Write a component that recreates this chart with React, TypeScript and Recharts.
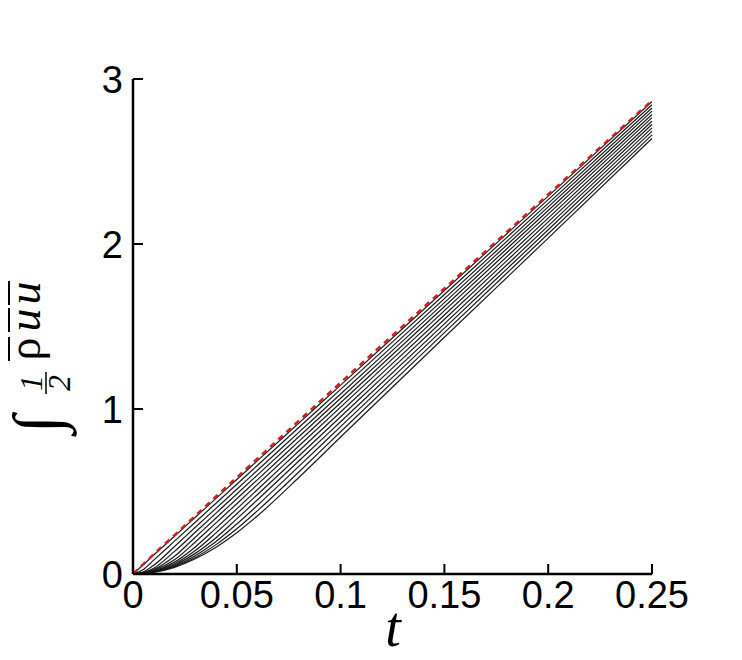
import React from "react";
import { LineChart, Line, XAxis, YAxis } from "recharts";

// time samples
const tValues = [0, 0.005, 0.01, 0.02, 0.03, 0.04, 0.05, 0.06, 0.08, 0.1, 0.15, 0.2, 0.25];

// black family, top to bottom
const curve01 = [0, 0.057, 0.115, 0.229, 0.344, 0.458, 0.573, 0.687, 0.916, 1.145, 1.718, 2.29, 2.863];
const curve02 = [0, 0.027, 0.084, 0.199, 0.314, 0.429, 0.544, 0.659, 0.889, 1.119, 1.694, 2.269, 2.844];
const curve03 = [0, 0.013, 0.053, 0.167, 0.283, 0.398, 0.514, 0.629, 0.86, 1.091, 1.669, 2.246, 2.824];
const curve04 = [0, 0.009, 0.035, 0.137, 0.253, 0.369, 0.485, 0.601, 0.833, 1.065, 1.645, 2.225, 2.805];
const curve05 = [0, 0.007, 0.027, 0.107, 0.223, 0.339, 0.456, 0.572, 0.805, 1.038, 1.621, 2.203, 2.785];
const curve06 = [0, 0.005, 0.022, 0.086, 0.194, 0.31, 0.426, 0.543, 0.777, 1.011, 1.596, 2.181, 2.766];
const curve07 = [0, 0.0045, 0.018, 0.072, 0.164, 0.278, 0.395, 0.512, 0.747, 0.982, 1.57, 2.157, 2.745];
const curve08 = [0, 0.004, 0.015, 0.062, 0.142, 0.249, 0.365, 0.482, 0.717, 0.953, 1.544, 2.134, 2.725];
const curve09 = [0, 0.0034, 0.014, 0.055, 0.125, 0.22, 0.334, 0.45, 0.686, 0.923, 1.516, 2.11, 2.704];
const curve10 = [0, 0.003, 0.012, 0.049, 0.111, 0.197, 0.303, 0.417, 0.654, 0.893, 1.49, 2.086, 2.683];
const curve11 = [0, 0.0027, 0.011, 0.044, 0.1, 0.178, 0.274, 0.384, 0.62, 0.862, 1.463, 2.062, 2.661];
const curve12 = [0, 0.0025, 0.01, 0.04, 0.092, 0.162, 0.25, 0.353, 0.586, 0.83, 1.435, 2.036, 2.64];

// red dashed reference
const redCurve = [0, 0.06, 0.12, 0.236, 0.353, 0.47, 0.585, 0.7, 0.93, 1.16, 1.73, 2.3, 2.87];

const xTicks = [0, 0.05, 0.1, 0.15, 0.2, 0.25];
const yTicks = [0, 1, 2, 3];

const blackCurves = [curve01, curve02, curve03, curve04, curve05, curve06, curve07, curve08, curve09, curve10, curve11, curve12];

const data = tValues.map((t, i) => {
  const row: Record<string, number> = { t, red: redCurve[i] };
  blackCurves.forEach((c, k) => {
    row["c" + k] = c[i];
  });
  return row;
});

const FONT = "'Liberation Sans', Arial, sans-serif";
const SERIF = "'Liberation Serif', 'Times New Roman', serif";

const XTick = (props: any) => {
  const { x, y, payload } = props;
  return (
    <g>
      <line x1={x} x2={x} y1={y} y2={y - 10} stroke="#000" strokeWidth={2} />
      <text x={x} y={y + 34} textAnchor="middle" fontSize={38} fontFamily={FONT} fill="#000">
        {payload.value}
      </text>
    </g>
  );
};

const YTick = (props: any) => {
  const { x, y, payload } = props;
  return (
    <g>
      <line x1={x} x2={x + 10} y1={y} y2={y} stroke="#000" strokeWidth={2} />
      <text x={x - 10} y={y + 14} textAnchor="end" fontSize={38} fontFamily={FONT} fill="#000">
        {payload.value}
      </text>
    </g>
  );
};

export default function App() {
  return (
    <div style={{ position: "absolute", left: 0, top: 0, width: 742, height: 660, background: "#fff" }}>
      <LineChart
        width={742}
        height={660}
        data={data}
        margin={{ top: 79, right: 90, bottom: 46, left: 93 }}
      >
        <XAxis
          dataKey="t"
          type="number"
          domain={[0, 0.25]}
          ticks={xTicks}
          interval={0}
          height={40}
          tickSize={0}
          tickMargin={0}
          tickLine={false}
          tick={<XTick />}
          axisLine={{ stroke: "#000", strokeWidth: 2.5 }}
        />
        <YAxis
          type="number"
          domain={[0, 3]}
          ticks={yTicks}
          interval={0}
          width={40}
          tickSize={0}
          tickMargin={0}
          tickLine={false}
          tick={<YTick />}
          axisLine={{ stroke: "#000", strokeWidth: 2.5 }}
        />
        {blackCurves.map((_, k) => (
          <Line
            key={k}
            type="monotone"
            dataKey={"c" + k}
            stroke="#1a1a1a"
            strokeWidth={1.2}
            dot={false}
            isAnimationActive={false}
          />
        ))}
        <Line
          type="monotone"
          dataKey="red"
          stroke="#d21f1f"
          strokeWidth={2.5}
          strokeDasharray="6 5"
          dot={false}
          isAnimationActive={false}
        />
      </LineChart>
      <svg
        width={742}
        height={660}
        style={{ position: "absolute", left: 0, top: 0, pointerEvents: "none" }}
      >
        <text x={393} y={646} textAnchor="middle" fontSize={56} fontStyle="italic" fontFamily={SERIF} fill="#000">
          t
        </text>
        <g transform="rotate(-90)">
          <text x={-433} y={59} fontSize={66} fontStyle="italic" fontFamily={SERIF} fill="#000">
            ∫
          </text>
          <text x={-383} y={42} textAnchor="middle" fontSize={32} fontStyle="italic" fontFamily={SERIF} fill="#000">
            1
          </text>
          <line x1={-394} x2={-372} y1={46} y2={46} stroke="#000" strokeWidth={1.5} />
          <text x={-383} y={70} textAnchor="middle" fontSize={32} fontStyle="italic" fontFamily={SERIF} fill="#000">
            2
          </text>
          <text x={-349} y={40} textAnchor="middle" fontSize={46} fontFamily={SERIF} fill="#000">
            ρ
          </text>
          <line x1={-361} x2={-337} y1={9} y2={9} stroke="#000" strokeWidth={2} />
          <text x={-320} y={40} textAnchor="middle" fontSize={46} fontStyle="italic" fontFamily={SERIF} fill="#000">
            u
          </text>
          <line x1={-332} x2={-308} y1={9} y2={9} stroke="#000" strokeWidth={2} />
          <text x={-293} y={40} textAnchor="middle" fontSize={46} fontStyle="italic" fontFamily={SERIF} fill="#000">
            u
          </text>
          <line x1={-305} x2={-281} y1={9} y2={9} stroke="#000" strokeWidth={2} />
        </g>
      </svg>
    </div>
  );
}
